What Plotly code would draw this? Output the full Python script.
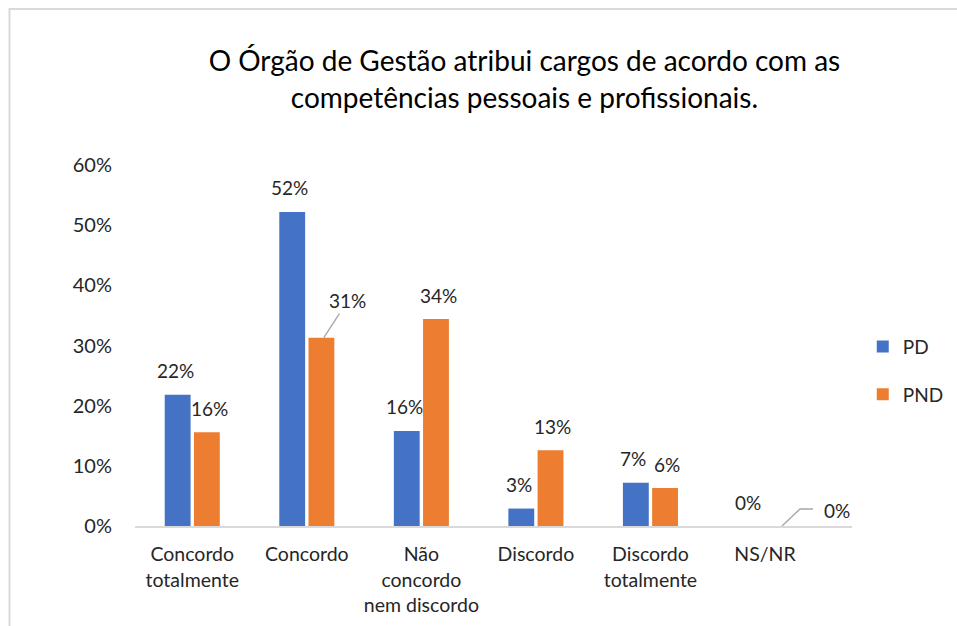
import plotly.graph_objects as go

categories = ["Concordo<br>totalmente", "Concordo", "Não<br>concordo<br>nem discordo",
              "Discordo", "Discordo<br>totalmente", "NS/NR"]
pd_values = [0.218, 0.522, 0.158, 0.029, 0.072, 0.0]
pnd_values = [0.156, 0.313, 0.344, 0.126, 0.063, 0.0]
series_names = ["PD", "PND"]
colors = ["#4472C4", "#ED7D31"]
y_ticks = [0, 0.1, 0.2, 0.3, 0.4, 0.5, 0.6]
y_tick_labels = ["0%", "10%", "20%", "30%", "40%", "50%", "60%"]
title_text = "O Órgão de Gestão atribui cargos de acordo com as<br>competências pessoais e profissionais."

FONT = "Lato"
LABEL_FONT = dict(family=FONT, size=19, color="#262626")

fig = go.Figure()
for i, (name, vals) in enumerate(zip(series_names, [pd_values, pnd_values])):
    fig.add_trace(go.Bar(
        x=categories, y=vals, name=name, marker_color=colors[i],
        marker_line_width=0, legendgroup=name, hoverinfo="skip",
    ))

annotations = []
for si, vals in enumerate([pd_values, pnd_values]):
    shift = -17 if si == 0 else 17
    for ci, v in enumerate(vals):
        label = f"{round(v * 100):.0f}%"
        if (si, ci) == (1, 1):
            annotations.append(dict(
                x=categories[ci], y=v, xshift=shift, text=label, showarrow=True,
                arrowhead=0, arrowwidth=1.3, arrowcolor="#A6A6A6", ax=24, ay=-37,
                standoff=0, xref="x", yref="y", font=LABEL_FONT))
        elif (si, ci) == (1, 5):
            annotations.append(dict(
                x=categories[ci], y=v, xshift=shift + 40, yshift=16, text=label,
                showarrow=False, xanchor="left", yanchor="middle",
                xref="x", yref="y", font=LABEL_FONT))
        else:
            annotations.append(dict(
                x=categories[ci], y=v, xshift=shift, yshift=24, text=label,
                showarrow=False, yanchor="middle", xref="x", yref="y", font=LABEL_FONT))

shapes = [
    dict(type="rect", xref="paper", yref="paper", x0=-0.175, x1=1.5, y0=-0.5, y1=1.432,
         line=dict(color="#D9D9D9", width=2), fillcolor="rgba(0,0,0,0)", layer="below"),
    dict(type="path", xref="x", yref="y", xsizemode="pixel", ysizemode="pixel",
         xanchor=5, yanchor=pnd_values[5],
         path="M 17 0 L 35 17 L 48 17",
         line=dict(color="#A6A6A6", width=1.3)),
]

fig.update_layout(
    width=957, height=626,
    paper_bgcolor="white", plot_bgcolor="white",
    margin=dict(l=135, r=105, t=165, b=100, autoexpand=False),
    title=dict(text=title_text, x=0.548, xanchor="center", y=0.886, yanchor="middle",
               font=dict(family=FONT, size=28, color="#000000")),
    barmode="group", bargap=0.49, bargroupgap=0.115,
    font=dict(family=FONT, size=18, color="#262626"),
    showlegend=True,
    legend=dict(x=1.015, y=0.43, xanchor="left", yanchor="middle",
                font=dict(family=FONT, size=19, color="#262626"),
                tracegroupgap=20, itemwidth=30, bgcolor="rgba(0,0,0,0)"),
    xaxis=dict(showline=True, linecolor="#D9D9D9", linewidth=1.5, ticks="",
               ticklabelstandoff=10,
               tickfont=dict(family=FONT, size=19.5, color="#262626"), showgrid=False),
    yaxis=dict(range=[0, 0.6], tickvals=y_ticks, ticktext=y_tick_labels, showgrid=False,
               zeroline=False, showline=False, ticks="", ticklabelstandoff=22,
               tickfont=dict(family=FONT, size=20, color="#262626")),
    annotations=annotations,
    shapes=shapes,
)

fig.write_html("out.html", config={"displayModeBar": False},
               post_script="document.body.style.margin='0';")
